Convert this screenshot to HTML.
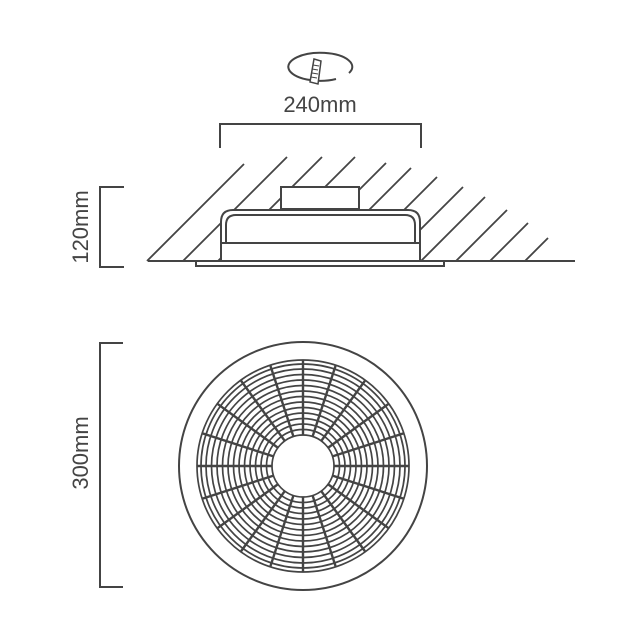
<!DOCTYPE html>
<html><head><style>body{margin:0;background:#fff}svg{display:block}</style></head>
<body>
<svg width="640" height="640" viewBox="0 0 640 640" xmlns="http://www.w3.org/2000/svg" font-family="Liberation Sans, sans-serif">
<g stroke="#444" stroke-width="2" fill="none">
<!-- rotation icon -->
<path d="M336,79 A32,14 0 1 1 349,73" />
<path d="M310,82 L314,59 L321,61 L318,84 Z" fill="#fff" stroke-width="1.5"/>
<line x1="313" y1="65" x2="319" y2="66" stroke-width="1"/>
<line x1="312" y1="69" x2="318" y2="70" stroke-width="1"/>
<line x1="312" y1="73" x2="318" y2="74" stroke-width="1"/>
<line x1="311" y1="77" x2="317" y2="78" stroke-width="1"/>
<!-- 240 bracket -->
<polyline points="220,148 220,124 421,124 421,148"/>
<!-- hatch -->
<g stroke-width="1.8">
<line x1="147" y1="261" x2="244" y2="164"/>
<line x1="183" y1="261" x2="287" y2="157"/>
<line x1="218" y1="261" x2="322" y2="157"/>
<line x1="251" y1="261" x2="355" y2="157"/>
<line x1="288" y1="261" x2="386" y2="163"/>
<line x1="318" y1="261" x2="411" y2="168"/>
<line x1="353" y1="261" x2="437" y2="177"/>
<line x1="389" y1="261" x2="463" y2="187"/>
<line x1="421" y1="261" x2="485" y2="197"/>
<line x1="456" y1="261" x2="507" y2="210"/>
<line x1="490" y1="261" x2="528" y2="223"/>
<line x1="525" y1="261" x2="548" y2="238"/>
</g>
<line x1="148" y1="261" x2="575" y2="261"/>
<rect x="281" y="187" width="78" height="22" fill="#fff"/>
<path d="M221,261 L221,222 Q221,210 233,210 L408,210 Q420,210 420,222 L420,261 Z" fill="#fff"/>
<path d="M226,243 L226,225 Q226,215 236,215 L405,215 Q415,215 415,225 L415,243" />
<line x1="221" y1="243" x2="420" y2="243"/>
<rect x="196" y="261" width="248" height="5" fill="#fff"/>
<!-- left dims -->
<polyline points="124,187 100,187 100,267 124,267"/>
<polyline points="123,343 100,343 100,587 123,587"/>
<!-- fan -->
<circle cx="303" cy="466" r="124"/>
<g stroke-width="1.7">
<circle cx="303" cy="466" r="106"/>
<circle cx="303" cy="466" r="31"/>
<circle cx="303" cy="466" r="36.5"/><circle cx="303" cy="466" r="42"/><circle cx="303" cy="466" r="47.5"/>
<circle cx="303" cy="466" r="53"/><circle cx="303" cy="466" r="58.5"/><circle cx="303" cy="466" r="64"/>
<circle cx="303" cy="466" r="69.5"/><circle cx="303" cy="466" r="75"/><circle cx="303" cy="466" r="80.5"/>
<circle cx="303" cy="466" r="86"/><circle cx="303" cy="466" r="91.5"/><circle cx="303" cy="466" r="97"/>
<circle cx="303" cy="466" r="102"/>
</g>
<g stroke-width="2.4" transform="translate(303,466)">
<line x1="31" y1="0" x2="106" y2="0" transform="rotate(0)"/>
<line x1="31" y1="0" x2="106" y2="0" transform="rotate(18)"/>
<line x1="31" y1="0" x2="106" y2="0" transform="rotate(36)"/>
<line x1="31" y1="0" x2="106" y2="0" transform="rotate(54)"/>
<line x1="31" y1="0" x2="106" y2="0" transform="rotate(72)"/>
<line x1="31" y1="0" x2="106" y2="0" transform="rotate(90)"/>
<line x1="31" y1="0" x2="106" y2="0" transform="rotate(108)"/>
<line x1="31" y1="0" x2="106" y2="0" transform="rotate(126)"/>
<line x1="31" y1="0" x2="106" y2="0" transform="rotate(144)"/>
<line x1="31" y1="0" x2="106" y2="0" transform="rotate(162)"/>
<line x1="31" y1="0" x2="106" y2="0" transform="rotate(180)"/>
<line x1="31" y1="0" x2="106" y2="0" transform="rotate(198)"/>
<line x1="31" y1="0" x2="106" y2="0" transform="rotate(216)"/>
<line x1="31" y1="0" x2="106" y2="0" transform="rotate(234)"/>
<line x1="31" y1="0" x2="106" y2="0" transform="rotate(252)"/>
<line x1="31" y1="0" x2="106" y2="0" transform="rotate(270)"/>
<line x1="31" y1="0" x2="106" y2="0" transform="rotate(288)"/>
<line x1="31" y1="0" x2="106" y2="0" transform="rotate(306)"/>
<line x1="31" y1="0" x2="106" y2="0" transform="rotate(324)"/>
<line x1="31" y1="0" x2="106" y2="0" transform="rotate(342)"/>
</g>
</g>
<g fill="#444" font-size="22">
<text x="320" y="112" text-anchor="middle">240mm</text>
<text transform="translate(88,227) rotate(-90)" text-anchor="middle">120mm</text>
<text transform="translate(88,453) rotate(-90)" text-anchor="middle">300mm</text>
</g>
</svg>
</body></html>
